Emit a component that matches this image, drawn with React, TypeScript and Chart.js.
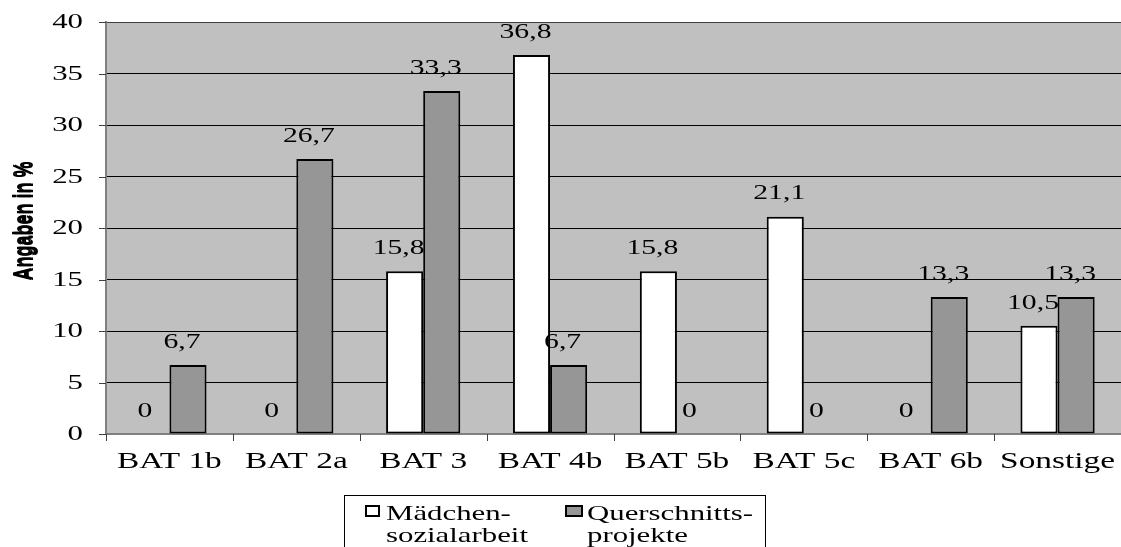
import React, { useEffect, useRef } from "react";
import { Chart, registerables } from "chart.js";

Chart.register(...registerables);

// Pay-grade groups and the share of staff (in %) for both project types
const categories = ["BAT 1b", "BAT 2a", "BAT 3", "BAT 4b", "BAT 5b", "BAT 5c", "BAT 6b", "Sonstige"];
const maedchenValues = [0, 0, 15.8, 36.8, 15.8, 21.1, 0, 10.5];
const querschnittValues = [6.7, 26.7, 33.3, 6.7, 0, 0, 13.3, 13.3];
const yTicks = [0, 5, 10, 15, 20, 25, 30, 35, 40];
const seriesLegend = [
  ["Mädchen-", "sozialarbeit"],
  ["Querschnitts-", "projekte"],
];
const yTitle = "Angaben in %";

const W = 1121;
const H = 547;
const SERIF = "'Liberation Serif', 'Times New Roman', serif";
const SANS = "'Liberation Sans', Arial, sans-serif";
const PLOT_BG = "#c0c0c0";
const WHITE_BAR = "#ffffff";
const GRAY_BAR = "#969696";
const AXIS_GRAY = "#808080";

function fmt(v: number): string {
  return v === 0 ? "0" : v.toFixed(1).replace(".", ",");
}

// Text in this chart is drawn horizontally widened
function wideText(
  ctx: CanvasRenderingContext2D,
  text: string,
  x: number,
  y: number,
  align: CanvasTextAlign,
  baseline: CanvasTextBaseline,
  sx: number
) {
  ctx.save();
  ctx.translate(x, y);
  ctx.scale(sx, 1);
  ctx.textAlign = align;
  ctx.textBaseline = baseline;
  ctx.fillText(text, 0, 0);
  ctx.restore();
}

const decorPlugin = {
  id: "decor",
  beforeDraw(chart: any) {
    const { ctx, chartArea: a } = chart;
    ctx.save();
    ctx.fillStyle = "#ffffff";
    ctx.fillRect(0, 0, chart.width, chart.height);
    ctx.fillStyle = PLOT_BG;
    ctx.fillRect(a.left, a.top, a.right - a.left, a.bottom - a.top);
    ctx.restore();
  },
  afterDatasetsDraw(chart: any) {
    const { ctx } = chart;
    ctx.save();
    ctx.fillStyle = "#000";
    ctx.font = `22px ${SERIF}`;
    chart.data.datasets.forEach((ds: any, di: number) => {
      const meta = chart.getDatasetMeta(di);
      meta.data.forEach((el: any, i: number) => {
        const v = ds.data[i] as number;
        wideText(ctx, fmt(v), el.x - 6, el.y - 23, "center", "middle", 1.35);
      });
    });
    ctx.restore();
  },
  afterDraw(chart: any) {
    const { ctx, chartArea: a } = chart;
    const xs = chart.scales.x;
    const ys = chart.scales.y;
    ctx.save();

    // y tick marks and labels
    ctx.strokeStyle = "#404040";
    ctx.lineWidth = 1;
    ctx.fillStyle = "#000";
    ctx.font = `22px ${SERIF}`;
    yTicks.forEach((t) => {
      const y = Math.round(ys.getPixelForValue(t)) + 0.5;
      ctx.beginPath();
      ctx.moveTo(a.left - 7, y);
      ctx.lineTo(a.left, y);
      ctx.stroke();
      wideText(ctx, String(t), a.left - 23, y, "right", "middle", 1.4);
    });

    // x tick marks at category boundaries
    const n = categories.length;
    const step = (a.right - a.left) / n;
    ctx.strokeStyle = "#404040";
    for (let i = 0; i <= n; i++) {
      const x = Math.round(a.left + i * step) + 0.5;
      ctx.beginPath();
      ctx.moveTo(x, a.bottom);
      ctx.lineTo(x, a.bottom + 7);
      ctx.stroke();
    }

    // category labels
    ctx.font = `23px ${SERIF}`;
    categories.forEach((c, i) => {
      wideText(ctx, c, xs.getPixelForTick(i), a.bottom + 28, "center", "middle", 1.45);
    });

    // y axis title, rotated and doubled
    ctx.font = `bold 18px ${SANS}`;
    ctx.fillStyle = "#000";
    for (const off of [0, 2]) {
      ctx.save();
      ctx.translate(24 + off, 221);
      ctx.scale(1.45, 1);
      ctx.rotate(-Math.PI / 2);
      ctx.textAlign = "center";
      ctx.textBaseline = "middle";
      ctx.fillText(yTitle, 0, 0);
      ctx.restore();
    }

    // legend box
    ctx.strokeStyle = "#000";
    ctx.lineWidth = 1;
    ctx.strokeRect(344.5, 495.5, 421, 80);
    const markers = [
      { x: 366, color: WHITE_BAR, w: 13, tx: 386 },
      { x: 566, color: GRAY_BAR, w: 16, tx: 587 },
    ];
    ctx.font = `22px ${SERIF}`;
    markers.forEach((m, i) => {
      ctx.fillStyle = m.color;
      ctx.fillRect(m.x, 506, m.w, 10);
      ctx.lineWidth = 2;
      ctx.strokeStyle = "#000";
      ctx.strokeRect(m.x, 506, m.w, 10);
      ctx.fillStyle = "#000";
      wideText(ctx, seriesLegend[i][0], m.tx, 520, "left", "alphabetic", 1.4);
      wideText(ctx, seriesLegend[i][1], m.tx, 542, "left", "alphabetic", 1.4);
    });

    ctx.restore();
  },
};

export default function App() {
  const ref = useRef<HTMLCanvasElement | null>(null);

  useEffect(() => {
    if (!ref.current) return;
    const chart = new Chart(ref.current, {
      type: "bar",
      data: {
        labels: categories,
        datasets: [
          {
            label: seriesLegend[0].join(""),
            data: maedchenValues,
            backgroundColor: WHITE_BAR,
            borderColor: "#000",
            borderWidth: 2,
            borderSkipped: false,
          },
          {
            label: seriesLegend[1].join(""),
            data: querschnittValues,
            backgroundColor: GRAY_BAR,
            borderColor: "#000",
            borderWidth: 2,
            borderSkipped: false,
          },
        ],
      },
      options: {
        responsive: false,
        devicePixelRatio: 1,
        animation: false,
        layout: { padding: { left: 106, top: 22, right: 0, bottom: 113 } },
        datasets: { bar: { barPercentage: 1, categoryPercentage: 0.585 } },
        plugins: {
          legend: { display: false },
          tooltip: { enabled: false },
          title: { display: false },
        },
        scales: {
          x: {
            grid: { display: false, drawTicks: false },
            ticks: { display: false },
            border: { display: true, color: AXIS_GRAY, width: 2 },
          },
          y: {
            min: 0,
            max: 40,
            ticks: { display: false, stepSize: 5 },
            grid: {
              drawTicks: false,
              lineWidth: 1,
              color: (c: any) =>
                c.tick && c.tick.value === 0 ? AXIS_GRAY : c.tick && c.tick.value === 40 ? "#404040" : "#000",
            },
            border: { display: true, color: AXIS_GRAY, width: 2 },
          },
        },
      },
      plugins: [decorPlugin],
    });
    return () => chart.destroy();
  }, []);

  return (
    <div style={{ position: "absolute", left: 0, top: 0, width: W, height: H, background: "#fff" }}>
      <canvas ref={ref} width={W} height={H} style={{ display: "block" }} />
    </div>
  );
}
